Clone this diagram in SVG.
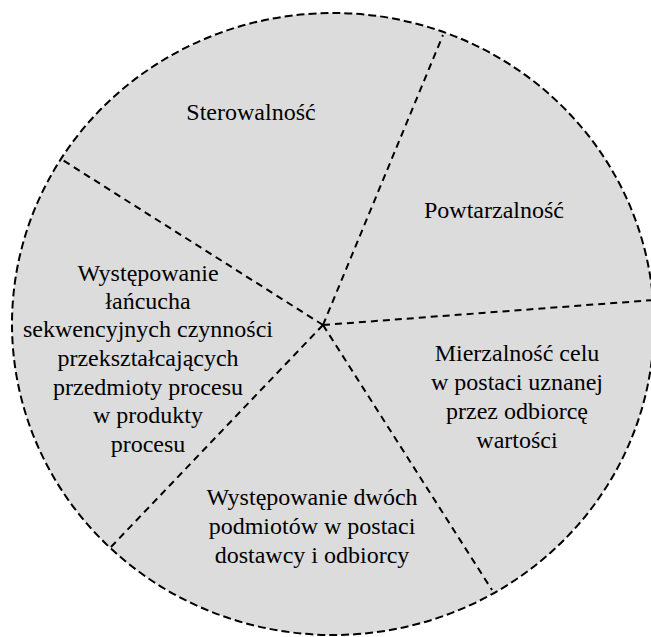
<svg xmlns="http://www.w3.org/2000/svg" width="651" height="637" viewBox="0 0 651 637">
<style>
.bg{fill:#dcdcdc;stroke:#000;stroke-width:2;stroke-dasharray:8 4}
.sp{stroke:#000;stroke-width:2;stroke-dasharray:7 5;fill:none}
.t text{font-size:24px;fill:#000;text-anchor:middle}
</style>
<rect width="651" height="637" fill="#fff"/>
<ellipse id="wheel" class="bg" cx="333" cy="324" rx="321" ry="311"/>
<g id="connectors">
<line class="sp" x1="323" y1="325" x2="443" y2="35"/>
<line class="sp" x1="323" y1="325" x2="61" y2="159"/>
<line class="sp" x1="323" y1="325" x2="654" y2="300"/>
<line class="sp" x1="323" y1="325" x2="110" y2="548"/>
<line class="sp" x1="323" y1="325" x2="492" y2="590"/>
</g>
<g class="t" font-family="Liberation Serif, Times New Roman, serif">
<g id="sterowalnosc"><text x="251" y="120">Sterowalność</text></g>
<g id="powtarzalnosc"><text x="494" y="218">Powtarzalność</text></g>
<g id="lancuch">
<text x="148" y="281">Występowanie</text>
<text x="148" y="309">łańcucha</text>
<text x="148" y="337">sekwencyjnych czynności</text>
<text x="148" y="366">przekształcających</text>
<text x="148" y="395">przedmioty procesu</text>
<text x="148" y="423">w produkty</text>
<text x="148" y="452">procesu</text>
</g>
<g id="mierzalnosc">
<text x="517" y="361">Mierzalność celu</text>
<text x="517" y="390">w postaci uznanej</text>
<text x="517" y="419">przez odbiorcę</text>
<text x="517" y="448">wartości</text>
</g>
<g id="podmioty">
<text x="312" y="505">Występowanie dwóch</text>
<text x="312" y="534">podmiotów w postaci</text>
<text x="312" y="563">dostawcy i odbiorcy</text>
</g>
</g>
</svg>
